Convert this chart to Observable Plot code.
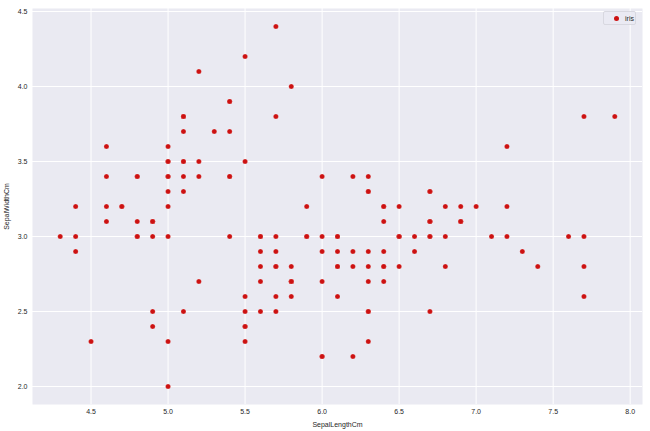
<!DOCTYPE html>
<html>
<head>
<meta charset="utf-8">
<script src="https://cdn.jsdelivr.net/npm/d3@7"></script>
<script src="https://cdn.jsdelivr.net/npm/@observablehq/plot@0.6"></script>
<style>
  html, body { margin: 0; padding: 0; background: #fff; }
  #wrap { position: relative; width: 650px; height: 431px; }
  #legend {
    position: absolute; left: 603px; top: 11px; width: 33px; height: 14px;
    background: rgba(234,234,242,0.8); border: 1px solid #d8d8e0; border-radius: 2px;
    font: 7px "Liberation Sans", Arial, sans-serif; color: #262626; box-sizing: border-box;
  }
  #legend .dot { position: absolute; left: 10px; top: 4px; width: 5px; height: 5px; border-radius: 50%; background: #cc1111; }
  #legend .lab { position: absolute; left: 21px; top: 2.5px; }
</style>
</head>
<body>
<div id="wrap"><div id="chart"></div><div id="legend"><span class="dot"></span><span class="lab">iris</span></div></div>
<script>
const sepalLength = [5.1,4.9,4.7,4.6,5.0,5.4,4.6,5.0,4.4,4.9,5.4,4.8,4.8,4.3,5.8,5.7,5.4,5.1,5.7,5.1,5.4,5.1,4.6,5.1,4.8,5.0,5.0,5.2,5.2,4.7,4.8,5.4,5.2,5.5,4.9,5.0,5.5,4.9,4.4,5.1,5.0,4.5,4.4,5.0,5.1,4.8,5.1,4.6,5.3,5.0,
7.0,6.4,6.9,5.5,6.5,5.7,6.3,4.9,6.6,5.2,5.0,5.9,6.0,6.1,5.6,6.7,5.6,5.8,6.2,5.6,5.9,6.1,6.3,6.1,6.4,6.6,6.8,6.7,6.0,5.7,5.5,5.5,5.8,6.0,5.4,6.0,6.7,6.3,5.6,5.5,5.5,6.1,5.8,5.0,5.6,5.7,5.7,6.2,5.1,5.7,
6.3,5.8,7.1,6.3,6.5,7.6,4.9,7.3,6.7,7.2,6.5,6.4,6.8,5.7,5.8,6.4,6.5,7.7,7.7,6.0,6.9,5.6,7.7,6.3,6.7,7.2,6.2,6.1,6.4,7.2,7.4,7.9,6.4,6.3,6.1,7.7,6.3,6.4,6.0,6.9,6.7,6.9,5.8,6.8,6.7,6.7,6.3,6.5,6.2,5.9];
const sepalWidth = [3.5,3.0,3.2,3.1,3.6,3.9,3.4,3.4,2.9,3.1,3.7,3.4,3.0,3.0,4.0,4.4,3.9,3.5,3.8,3.8,3.4,3.7,3.6,3.3,3.4,3.0,3.4,3.5,3.4,3.2,3.1,3.4,4.1,4.2,3.1,3.2,3.5,3.1,3.0,3.4,3.5,2.3,3.2,3.5,3.8,3.0,3.8,3.2,3.7,3.3,
3.2,3.2,3.1,2.3,2.8,2.8,3.3,2.4,2.9,2.7,2.0,3.0,2.2,2.9,2.9,3.1,3.0,2.7,2.2,2.5,3.2,2.8,2.5,2.8,2.9,3.0,2.8,3.0,2.9,2.6,2.4,2.4,2.7,2.7,3.0,3.4,3.1,2.3,3.0,2.5,2.6,3.0,2.6,2.3,2.7,3.0,2.9,2.9,2.5,2.8,
3.3,2.7,3.0,2.9,3.0,3.0,2.5,2.9,2.5,3.6,3.2,2.7,3.0,2.5,2.8,3.2,3.0,3.8,2.6,2.2,3.2,2.8,2.8,2.7,3.3,3.2,2.8,3.0,2.8,3.0,2.8,3.8,2.8,2.8,2.6,3.0,3.4,3.1,3.0,3.1,3.1,3.1,2.7,3.2,3.3,3.0,2.5,3.0,3.4,3.0];
const xTicks = [4.5,5.0,5.5,6.0,6.5,7.0,7.5,8.0];
const yTicks = [2.0,2.5,3.0,3.5,4.0,4.5];

const data = sepalLength.map((x, i) => ({x, y: sepalWidth[i]}));

const chart = Plot.plot({
  width: 650,
  height: 431,
  marginLeft: 32,
  marginRight: 8,
  marginTop: 8,
  marginBottom: 27,
  style: {fontFamily: '"Liberation Sans", Arial, sans-serif', fontSize: "7px", color: "#262626", background: "#fff"},
  x: {domain: [4.12, 8.08], ticks: xTicks, tickFormat: d3.format(".1f"), tickSize: 0, tickPadding: 5,
      label: "SepalLengthCm", labelAnchor: "center", labelArrow: "none", labelOffset: 22},
  y: {domain: [1.88, 4.52], ticks: yTicks, tickFormat: d3.format(".1f"), tickSize: 0, tickPadding: 5,
      label: "SepalWidthCm", labelAnchor: "center", labelArrow: "none", labelOffset: 28},
  marks: [
    Plot.frame({fill: "#eaeaf2", stroke: null}),
    Plot.gridX(xTicks, {stroke: "#fff", strokeOpacity: 1, strokeWidth: 1}),
    Plot.gridY(yTicks, {stroke: "#fff", strokeOpacity: 1, strokeWidth: 1}),
    Plot.dot(data, {x: "x", y: "y", r: 2.5, fill: "#cc1111", stroke: "#fff", strokeWidth: 0.2})
  ]
});
document.getElementById("chart").appendChild(chart);
</script>
</body>
</html>
